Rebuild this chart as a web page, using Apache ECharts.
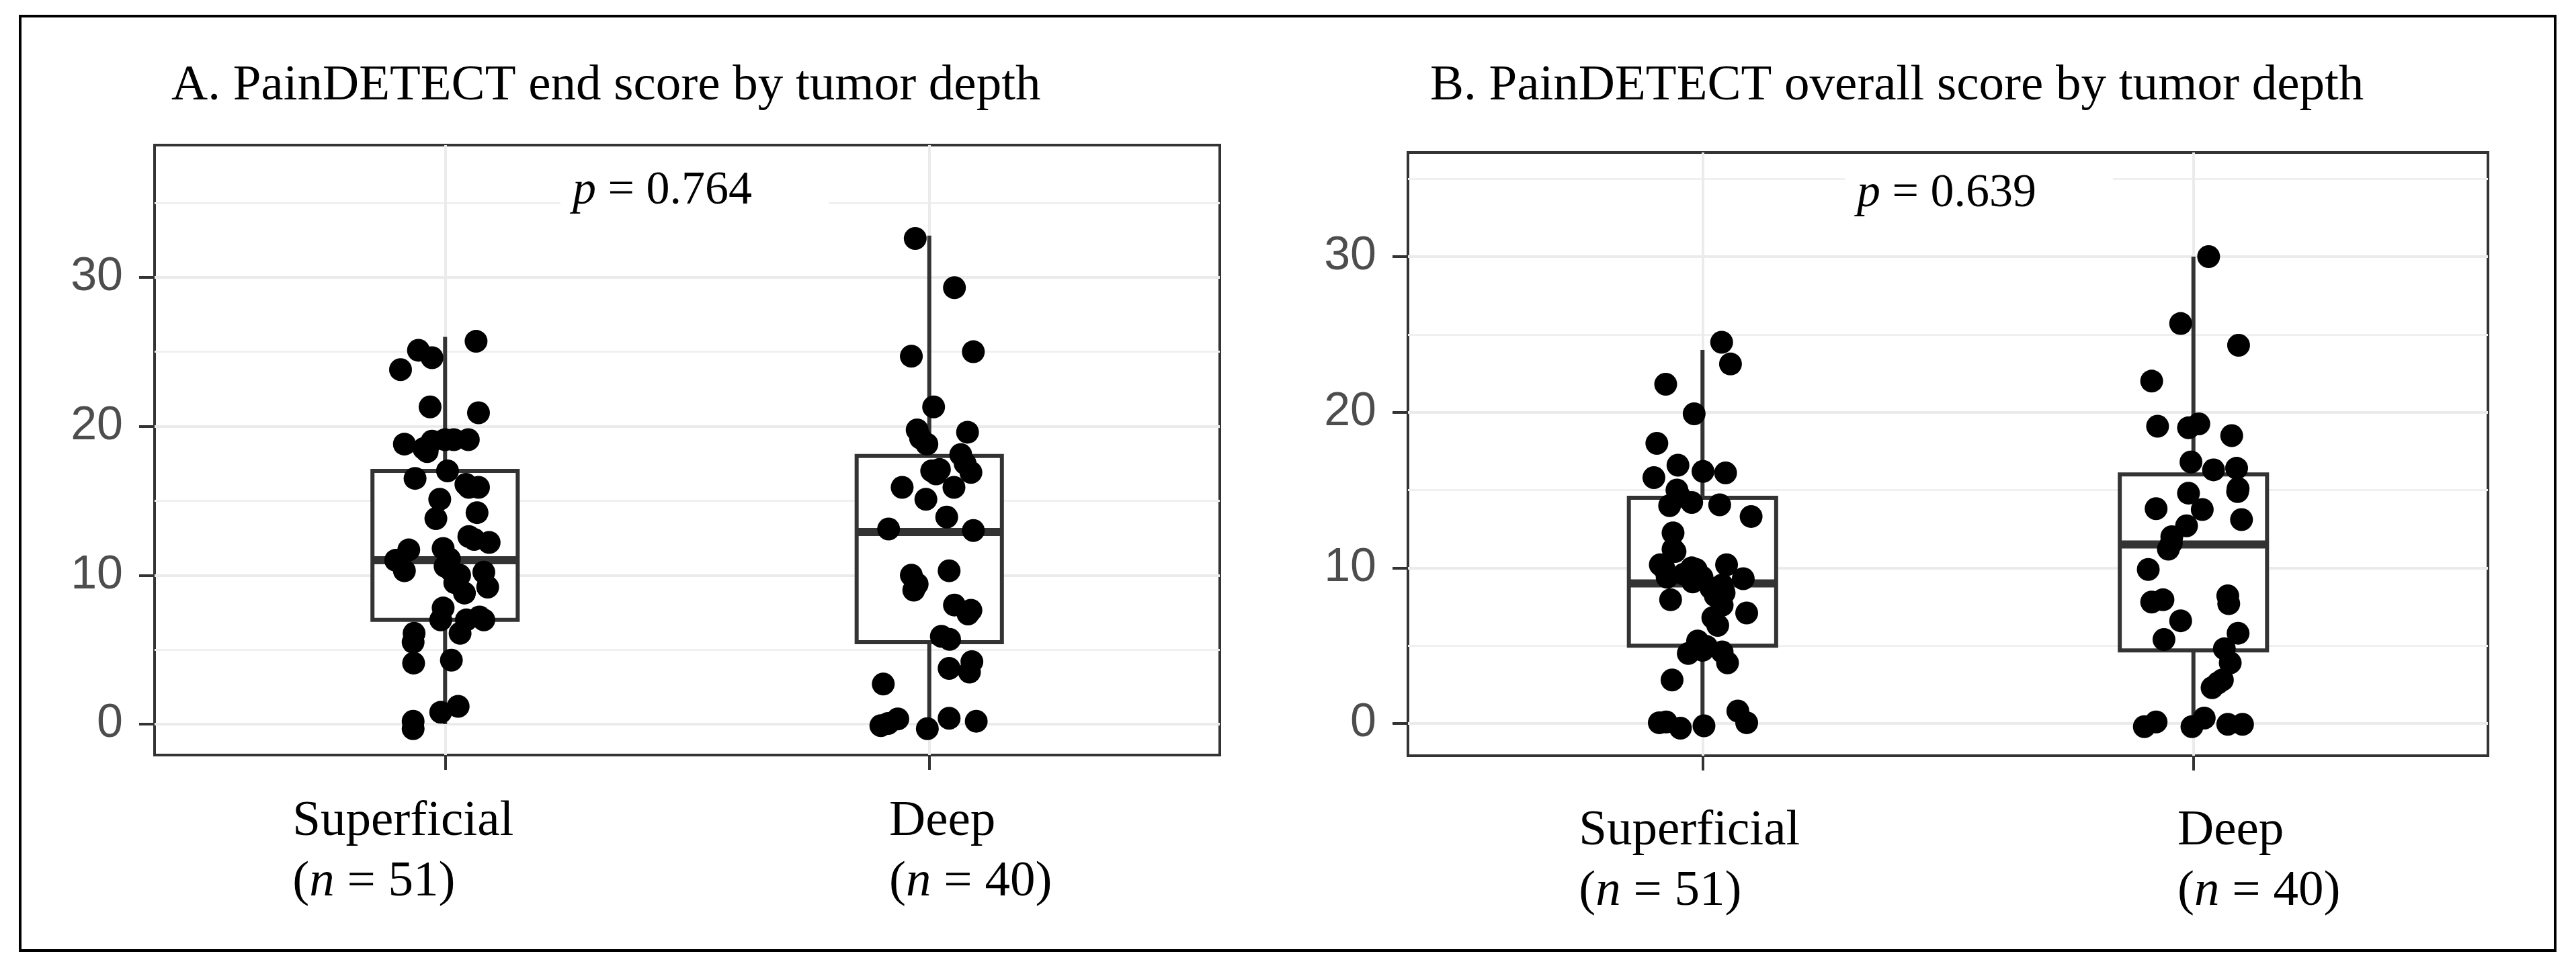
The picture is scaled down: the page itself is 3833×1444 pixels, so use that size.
<!DOCTYPE html>
<html>
<head>
<meta charset="utf-8">
<title>PainDETECT score by tumor depth</title>
<script src="https://cdn.jsdelivr.net/npm/echarts@6/dist/echarts.min.js"></script>
<style>
  html, body { margin: 0; padding: 0; background: #fff; }
  #main { width: 3833px; height: 1444px; }
</style>
</head>
<body>
<div id="main"></div>
<script>
var categories = ['Superficial', 'Deep'];
var groupSizes = [51, 40];
var yTicks = [0, 10, 20, 30];
var yMinorTicks = [5, 15, 25, 35];
var catTicks = [1, 2];
var panelTitles = ['A. PainDETECT end score by tumor depth', 'B. PainDETECT overall score by tumor depth'];
var pValues = ['0.764', '0.639'];

// box stats: [min, Q1, median, Q3, max]
var endBoxSuperficial = [0, 7, 11, 17, 26];
var endBoxDeep = [0, 5.5, 12.9, 18, 32.8];
var overallBoxSuperficial = [0, 5, 9, 14.5, 24];
var overallBoxDeep = [0, 4.7, 11.5, 16, 30];

// individual scores (jittered points) and horizontal jitter
var endSuperficial = [25.7, 25.1, 24.6, 23.8, 21.3, 20.9, 18.8, 18.5, 19.0, 19.1, 19.1, 19.1, 16.5, 17.0, 15.9, 15.9, 15.1,
    14.2, 13.8, 12.6, 12.2, 11.7, 11.8, 11.0, 10.3, 11.1, 10.3, 9.6, 8.8, 10.2, 9.2, 7.8, 7.0, 7.0, 7.2, 7.0, 6.1, 5.5,
    6.1, 4.1, 4.3, 1.2, 0.8, 0.2, -0.3, 10.6, 9.5, 16.1, 18.3, 12.4, 10.0];
var endSuperficialJitter = [0.064, -0.055, -0.027, -0.092, -0.031, 0.069, -0.084, -0.044, -0.027, 0, 0.018, 0.048, -0.062,
    0.005, 0.049, 0.069, -0.011, 0.066, -0.019, 0.049, 0.091, -0.075, -0.004, -0.102, -0.084, 0.009, 0.013, 0.025, 0.04,
    0.08, 0.088, -0.004, -0.009, 0.044, 0.071, 0.08, -0.064, -0.066, 0.031, -0.065, 0.013, 0.027, -0.009, -0.066, -0.066,
    0, 0.02, 0.043, -0.037, 0.06, 0.03];
var endDeep = [32.6, 29.3, 24.7, 25.0, 21.3, 19.75, 19.6, 18.8, 18.1, 17.5, 16.9, 17.0, 17.1, 15.9, 15.9, 15.1, 13.9, 13.1,
    13.0, 10.0, 9.0, 9.4, 10.3, 8.0, 7.65, 5.9, 5.7, 3.75, 4.2, 3.5, 2.7, -0.1, 0.35, -0.3, 0.4, 0.2, 0.05, 19.2, 16.8, 7.4];
var endDeepJitter = [-0.029, 0.052, -0.037, 0.091, 0.009, -0.025, 0.079, -0.005, 0.065, 0.074, 0.086, 0.005, 0.021, -0.056,
    0.051, -0.007, 0.036, -0.084, 0.091, -0.037, -0.032, -0.025, 0.041, 0.052, 0.086, 0.025, 0.042, 0.041, 0.088, 0.083,
    -0.095, -0.1, -0.065, -0.004, 0.041, 0.097, -0.085, -0.018, 0.014, 0.08];
var overallSuperficial = [24.5, 23.1, 21.8, 19.9, 18.0, 15.8, 16.6, 16.2, 16.1, 15.0, 14.2, 14.0, 14.05, 13.3, 12.25, 11.05,
    10.2, 10.0, 10.2, 9.4, 9.4, 9.3, 7.95, 8.2, 7.6, 7.1, 6.3, 5.3, 4.95, 4.5, 3.9, 2.8, 0.8, 0.05, 0.05, -0.3, -0.15, 0.1,
    14.6, 8.7, 9.9, 9.6, 8.4, 10.0, 9.1, 6.8, 4.7, 4.6, 9.8, 11.2, 8.9];
var overallSuperficialJitter = [0.039, 0.057, -0.075, -0.017, -0.093, -0.099, -0.05, 0.001, 0.047, -0.052, -0.022, -0.067,
    0.035, 0.099, -0.06, -0.056, -0.086, -0.022, 0.049, -0.072, -0.001, 0.083, -0.065, 0.026, 0.04, 0.09, 0.031, -0.01,
    0.008, -0.029, 0.051, -0.062, 0.072, 0.09, -0.088, -0.045, 0.003, -0.074, -0.047, 0.017, -0.013, -0.038, 0.044,
    -0.079, -0.02, 0.021, 0, 0.04, -0.024, -0.06, 0.04];
var overallDeep = [30.0, 25.7, 24.3, 22.0, 19.1, 19.0, 19.25, 18.5, 16.8, 16.3, 16.4, 15.1, 14.9, 14.8, 13.8, 13.75, 13.1,
    12.7, 12.0, 11.2, 9.9, 7.8, 7.95, 8.2, 7.7, 6.6, 5.4, 5.8, 4.8, 3.9, 2.8, 2.3, -0.2, 0.1, -0.2, 0.35, -0.05, -0.05,
    2.6, 11.6];
var overallDeepJitter = [0.031, -0.026, 0.092, -0.085, -0.073, -0.01, 0.011, 0.078, -0.005, 0.041, 0.088, 0.091, 0.09,
    -0.01, -0.076, 0.018, 0.098, -0.014, -0.044, -0.051, -0.092, -0.085, -0.062, 0.07, 0.072, -0.026, -0.06, 0.091, 0.063,
    0.075, 0.059, 0.038, -0.1, -0.076, -0.003, 0.022, 0.07, 0.1, 0.05, -0.045];

var serif = '"Liberation Serif", "Times New Roman", serif';
var sansNarrow = '"Liberation Sans Narrow", "Liberation Sans", Arial, sans-serif';
var xMin = 0.4, xMax = 2.6, boxWidth = 0.3;
var gridColor = '#ebebeb', minorColor = '#f0f0f0', inkColor = '#333333';

var myChart = echarts.init(document.getElementById('main'), null, {renderer: 'canvas'});

function points(values, jitter, pos) {
    return values.map(function (v, i) {
        return [pos + jitter[i], v];
    });
}

function serifToken(italic) {
    return {
        fontFamily: serif, fontSize: 75, lineHeight: 90, color: '#000',
        fontStyle: italic ? 'italic' : 'normal', align: 'left'
    };
}

// ggplot-like box: white box, thick median, whiskers without caps
function renderBox(params, api) {
    var x = api.value(0);
    var lo = api.coord([x, api.value(1)]);
    var q1 = api.coord([x, api.value(2)]);
    var med = api.coord([x, api.value(3)]);
    var q3 = api.coord([x, api.value(4)]);
    var hi = api.coord([x, api.value(5)]);
    var half = api.size([boxWidth, 0])[0] / 2;
    var lw = 6;
    return {
        type: 'group',
        children: [
            {type: 'rect', shape: {x: lo[0] - lw / 2, y: q1[1], width: lw, height: lo[1] - q1[1]},
                style: {fill: inkColor}},
            {type: 'rect', shape: {x: hi[0] - lw / 2, y: hi[1], width: lw, height: q3[1] - hi[1]},
                style: {fill: inkColor}},
            {type: 'rect', shape: {x: q3[0] - half, y: q3[1], width: half * 2, height: q1[1] - q3[1]},
                style: {fill: '#fff', stroke: inkColor, lineWidth: lw}},
            {type: 'rect', shape: {x: med[0] - half, y: med[1] - 6, width: half * 2, height: 12},
                style: {fill: inkColor}}
        ]
    };
}

// x axes: one for ticks, two only carrying the category labels
function mainXAxis(gridIndex) {
    return {
        type: 'value', gridIndex: gridIndex, min: xMin, max: xMax, position: 'bottom',
        axisLine: {show: false, onZero: false},
        axisTick: {show: true, customValues: catTicks, length: 22, lineStyle: {color: inkColor, width: 4}},
        axisLabel: {show: false},
        splitLine: {show: false}
    };
}

function labelXAxis(gridIndex, pos, margin, padding) {
    return {
        type: 'value', gridIndex: gridIndex, min: xMin, max: xMax, position: 'bottom',
        axisLine: {show: false, onZero: false},
        axisTick: {show: false},
        splitLine: {show: false},
        axisLabel: {
            customValues: [pos],
            margin: margin,
            padding: padding,
            formatter: function () {
                return '{t|' + categories[pos - 1] + '}\n{t|(}{i|n}{t| = ' + groupSizes[pos - 1] + ')}';
            },
            rich: {t: serifToken(false), i: serifToken(true)}
        }
    };
}

function yAxis(gridIndex, max) {
    return {
        type: 'value', gridIndex: gridIndex, min: -2.07, max: max,
        axisLine: {show: false, onZero: false},
        axisTick: {show: true, customValues: yTicks, length: 23, lineStyle: {color: inkColor, width: 4}},
        axisLabel: {customValues: yTicks, margin: 47, color: '#4d4d4d', fontSize: 70, fontFamily: sansNarrow},
        splitLine: {show: false}
    };
}

// panel gridlines, kept under the boxes and points
function gridLines(xi, yi) {
    var major = {color: gridColor, width: 4, type: 'solid'};
    var minor = {color: minorColor, width: 3, type: 'solid'};
    var lines = yMinorTicks.map(function (v) { return {yAxis: v, lineStyle: minor}; })
        .concat(yTicks.map(function (v) { return {yAxis: v, lineStyle: major}; }))
        .concat(catTicks.map(function (v) { return {xAxis: v, lineStyle: major}; }));
    return {
        type: 'scatter', xAxisIndex: xi, yAxisIndex: yi, data: [], z: 1, silent: true,
        markLine: {z: 1, silent: true, symbol: ['none', 'none'], label: {show: false}, animation: false,
            lineStyle: major, emphasis: {disabled: true}, data: lines}
    };
}

function boxSeries(xi, yi, boxes) {
    return {
        type: 'custom', xAxisIndex: xi, yAxisIndex: yi, z: 6, silent: true,
        renderItem: renderBox,
        encode: {x: 0, y: [1, 2, 3, 4, 5]},
        data: boxes.map(function (b, i) { return [catTicks[i]].concat(b); })
    };
}

function pointSeries(xi, yi, data) {
    return {
        type: 'scatter', xAxisIndex: xi, yAxisIndex: yi, z: 7, silent: true,
        symbol: 'circle', symbolSize: 34,
        itemStyle: {color: '#000', opacity: 1},
        data: data
    };
}

function textEl(x, y, text, extra) {
    var style = {
        text: text, fontFamily: serif, fontSize: 75, fill: '#000',
        align: 'left', verticalAlign: 'middle'
    };
    for (var k in extra) style[k] = extra[k];
    return {type: 'text', x: x, y: y, z: 100, style: style};
}

function pLabel(x, y, p) {
    return textEl(x, y, '{i|p} = ' + p, {
        fontSize: 70,
        backgroundColor: '#fff',
        padding: [16, 114, 16, 18],
        rich: {i: {fontFamily: serif, fontSize: 70, fontStyle: 'italic', fill: '#000'}}
    });
}

var option = {
    backgroundColor: '#fff',
    animation: false,
    grid: [
        {left: 230, top: 216, width: 1585, height: 908, show: true, backgroundColor: '#fff',
            borderColor: inkColor, borderWidth: 4, containLabel: false},
        {left: 2095, top: 227, width: 1607, height: 898, show: true, backgroundColor: '#fff',
            borderColor: inkColor, borderWidth: 4, containLabel: false}
    ],
    xAxis: [
        mainXAxis(0),
        labelXAxis(0, 1, 54, [0, 125, 0, 0]),
        labelXAxis(0, 2, 54, [0, 0, 0, 123]),
        mainXAxis(1),
        labelXAxis(1, 1, 67, [0, 39, 0, 0]),
        labelXAxis(1, 2, 67, [0, 0, 0, 195])
    ],
    yAxis: [yAxis(0, 38.87), yAxis(1, 36.69)],
    graphic: [
        {type: 'rect', z: 0, shape: {x: 30, y: 24, width: 3772, height: 1391},
            style: {fill: 'transparent', stroke: '#000', lineWidth: 4}},
        textEl(255, 128, panelTitles[0]),
        textEl(2128, 128, panelTitles[1]),
        pLabel(834, 285, pValues[0]),
        pLabel(2745, 289, pValues[1])
    ],
    series: [
        gridLines(0, 0),
        boxSeries(0, 0, [endBoxSuperficial, endBoxDeep]),
        pointSeries(0, 0, points(endSuperficial, endSuperficialJitter, 1).concat(points(endDeep, endDeepJitter, 2))),
        gridLines(3, 1),
        boxSeries(3, 1, [overallBoxSuperficial, overallBoxDeep]),
        pointSeries(3, 1, points(overallSuperficial, overallSuperficialJitter, 1).concat(points(overallDeep, overallDeepJitter, 2)))
    ]
};

myChart.setOption(option);
</script>
</body>
</html>
